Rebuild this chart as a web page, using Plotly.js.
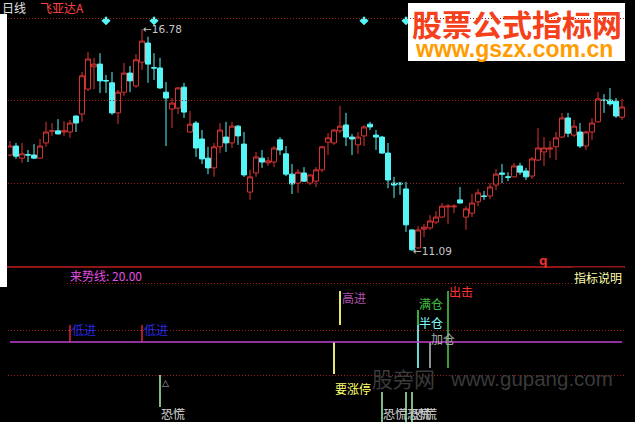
<!DOCTYPE html>
<html><head><meta charset="utf-8">
<script src="https://cdn.plot.ly/plotly-3.0.1.min.js"></script>
<style>html,body{margin:0;padding:0;background:#000;overflow:hidden}#chart{width:635px;height:422px}</style>
</head><body><div id="chart"></div>
<script>
// ---- daily candles (price, yuan) ----
const openP = [13.55,13.78,13.47,13.56,13.55,13.47,13.86,14.16,14.17,14.14,14.14,14.55,14.60,15.24,15.81,15.88,15.46,15.40,14.63,15.16,15.65,15.32,15.93,16.42,15.79,15.78,15.16,14.73,14.75,15.29,14.14,14.37,13.96,13.47,13.22,13.76,14.01,13.86,14.29,13.83,12.60,13.09,13.47,13.35,13.37,13.94,13.58,13.06,12.83,13.09,12.83,12.88,13.17,13.88,13.86,14.17,14.32,14.01,13.81,14.04,14.34,14.06,14.01,13.60,12.83,12.83,12.68,11.63,11.17,11.65,11.68,11.83,11.96,12.22,12.22,12.40,11.96,12.06,12.35,12.50,12.50,12.78,13.09,12.99,12.99,13.27,13.14,13.01,13.42,13.63,13.70,13.76,14.01,14.50,14.06,14.14,13.78,14.14,14.40,14.96,14.96,14.93,14.52];
const highP = [13.91,13.86,13.86,13.68,13.83,13.96,14.40,14.37,14.47,14.42,14.45,14.56,15.68,16.19,16.04,16.16,15.60,15.68,15.22,15.91,15.83,16.14,16.78,16.58,16.16,16.04,15.42,15.01,15.29,15.40,14.68,14.42,14.19,13.76,13.86,14.37,14.40,14.40,14.32,14.14,13.17,13.63,13.68,13.50,13.78,14.01,13.78,13.32,13.19,13.24,13.05,13.24,13.78,14.11,14.22,14.81,14.63,14.09,14.14,14.32,14.40,14.19,14.04,13.86,12.99,12.86,12.86,11.64,11.73,11.78,12.01,12.11,12.32,12.29,12.29,12.73,12.24,12.55,12.68,12.63,12.83,13.19,13.32,13.11,13.35,13.35,13.22,13.50,14.24,14.01,13.91,14.14,14.63,14.63,14.45,14.37,14.17,14.50,15.16,15.11,15.27,15.01,14.99];
const lowP = [13.52,13.45,13.35,13.37,13.46,13.46,13.76,14.04,14.08,14.04,13.99,14.14,14.40,15.19,15.24,15.14,15.14,14.58,14.34,15.06,15.16,15.27,15.73,15.40,15.47,15.24,13.78,14.24,14.60,14.50,14.13,13.50,13.32,13.06,12.99,13.60,13.63,13.73,13.81,12.99,12.40,12.99,13.22,13.27,13.24,13.55,13.01,12.55,12.58,12.86,12.78,12.73,13.11,13.55,13.81,14.11,13.78,13.55,13.58,13.78,14.19,13.68,13.58,12.70,12.45,12.53,11.58,11.09,11.14,11.45,11.63,11.78,11.94,11.78,12.06,12.31,11.63,11.96,12.24,12.40,12.42,12.65,12.83,12.88,12.98,13.04,12.91,12.94,13.40,13.27,13.47,13.42,13.99,14.01,14.01,13.73,13.68,13.94,14.39,14.63,14.81,14.50,14.45];
const closeP = [13.78,13.52,13.58,13.55,13.47,13.78,14.14,14.17,14.09,14.17,14.37,14.37,15.58,16.01,15.88,15.45,15.45,14.63,15.16,15.65,15.45,15.99,16.47,15.88,15.78,15.27,15.01,14.88,15.27,14.65,14.34,13.73,13.45,13.22,13.76,14.19,13.86,14.29,14.04,13.04,12.99,13.50,13.37,13.40,13.73,13.68,13.06,12.81,13.11,12.88,13.04,13.17,13.76,13.99,14.19,14.29,14.01,13.96,14.01,14.27,14.27,14.01,13.60,12.91,12.78,12.81,11.76,11.12,11.63,11.70,11.86,11.96,12.24,12.24,12.24,12.32,12.17,12.32,12.58,12.49,12.73,13.06,13.06,12.98,13.27,13.11,12.99,13.45,13.73,13.73,13.73,13.99,14.50,14.11,14.29,13.78,14.14,14.37,14.99,14.95,14.86,14.55,14.78];

// ---- top marker diamonds ----
const diamondIdx = [16, 24, 59, 66];
const diamondLevel = 16.99;

// ---- indicator panel: 来势线 and signals ----
const trendLineValue = 20.00;
const sigIdx  = [10, 22, 25, 54, 55, 62, 66, 67, 68, 68, 70, 73];
const sigLow  = [20, 20, 3.75, 12, 24.25, 0, 0, 0, 24.25, 13.5, 13.5, 13.5];
const sigHigh = [24.25, 24.25, 11.75, 20, 32.75, 7.5, 7.5, 7.5, 28, 24.25, 20, 32.75];
const sigName = ['低进','低进','恐慌','要涨停','高进','恐慌','恐慌','恐慌','满仓','半仓','加仓','出击'];

// ---- styles ----
const W = 635, H = 422;
const px = x => x / W, py = y => 1 - y / H;
const CJK = 'Noto Sans CJK SC, sans-serif';
const sigStyle = {
  '低进':  {bar:'#b82030', txt:'#2a2ae8', at:'high', dy:-4.5, dx:0},
  '恐慌':  {bar:'#8fcf8f', txt:'#d8d8d8', at:'fix',  v:2.25, dy:0, dx:-1},
  '要涨停':{bar:'#ffff80', txt:'#ffff70', at:'low',  dy:-14, dx:-1},
  '高进':  {bar:'#ffff80', txt:'#b050b0', at:'high', dy:-6.5, dx:0},
  '满仓':  {bar:'#40c040', txt:'#40c040', at:'high', dy:7, dx:-1},
  '半仓':  {bar:'#70f0f0', txt:'#80ffff', at:'high', dy:3, dx:-1},
  '加仓':  {bar:'#a0a0a0', txt:'#a8a8a8', at:'high', dy:4, dx:-1},
  '出击':  {bar:'#40b040', txt:'#ff3030', at:'high', dy:0, dx:-1}
};

const idx = openP.map((_, i) => i);

const traces = [
  {
    type:'candlestick', x: idx, open: openP, high: highP, low: lowP, close: closeP,
    xaxis:'x', yaxis:'y', hoverinfo:'skip', whiskerwidth:0,
    increasing:{line:{color:'#d83434', width:1}, fillcolor:'rgba(0,0,0,0)'},
    decreasing:{line:{color:'#54f6f6', width:1}, fillcolor:'#54f6f6'}
  },
  {
    type:'scatter', mode:'markers', x: diamondIdx, y: diamondIdx.map(() => diamondLevel),
    xaxis:'x', yaxis:'y', hoverinfo:'skip',
    marker:{symbol:'diamond', size:7, color:'#54f6f6'}
  },
  {
    type:'bar', x: sigIdx, base: sigLow, y: sigHigh.map((h, i) => h - sigLow[i]),
    xaxis:'x', yaxis:'y2', width:0.3, hoverinfo:'skip',
    marker:{color: sigName.map(n => sigStyle[n].bar), line:{width:0}}
  }
];

// ---- extremes ----
let hiI = 0, loI = 0;
highP.forEach((v, i) => { if (v > highP[hiI]) hiI = i; });
lowP.forEach((v, i) => { if (v < lowP[loI]) loI = i; });

const annotations = [];
function pann(text, x, y, color, size, extra) {
  annotations.push(Object.assign({text, x: px(x), y: py(y), xref:'paper', yref:'paper',
    xanchor:'left', yanchor:'middle', showarrow:false, font:{family:CJK, size, color}}, extra || {}));
}
pann('日线', 0, 7.5, '#e0e0e0', 12);
pann('飞亚达A', 38, 7.5, '#ff4444', 12);
pann('来势线: ' + trendLineValue.toFixed(2), 68, 275, '#e050e0', 12);
pann('指标说明', 572, 277, '#ffffb0', 12, {bgcolor:'#000'});
pann('q', 537, 261, '#e03030', 12, {font:{family:'DejaVu Sans', size:12, color:'#e03030', weight:'bold'}});
// watermarks
pann('股票公式指标网', 410, 22.5, '#f5401c', 30, {font:{family:CJK, size:30, color:'#f5401c', weight:'bold'}});
pann('www.gszx.com.cn', 413, 48.5, '#ff9c00', 23, {font:{family:'Liberation Sans', size:23, color:'#ff9c00', weight:'bold'}});
pann('股旁网', 370, 378, '#3a3a3a', 21);
pann('www.gupang.com', 448, 378, '#3a3a3a', 20, {font:{family:'Liberation Sans', size:20.5, color:'#3a3a3a'}});

annotations.push({text:'←' + highP[hiI].toFixed(2), x: hiI, y: highP[hiI], xref:'x', yref:'y',
  xanchor:'left', yanchor:'middle', showarrow:false, xshift:-1,
  font:{family:'DejaVu Sans', size:10.5, color:'#c8c8c8'}});
annotations.push({text:'←' + lowP[loI].toFixed(2), x: loI, y: lowP[loI], xref:'x', yref:'y',
  xanchor:'left', yanchor:'middle', showarrow:false, xshift:-1,
  font:{family:'DejaVu Sans', size:10.5, color:'#c8c8c8'}});

sigName.forEach((n, i) => {
  const s = sigStyle[n];
  const yv = s.at === 'high' ? sigHigh[i] : s.at === 'low' ? sigLow[i] : s.v;
  annotations.push({text:n, x: sigIdx[i], y: yv, xref:'x', yref:'y2', xanchor:'left', yanchor:'middle',
    showarrow:false, xshift: s.dx, yshift: s.dy, font:{family:CJK, size:12, color:s.txt}});
});
const firstPanic = sigName.indexOf('恐慌');
annotations.push({text:'△', x: sigIdx[firstPanic], y: sigHigh[firstPanic], xref:'x', yref:'y2',
  xanchor:'left', yanchor:'top', showarrow:false, xshift:0, yshift:-1,
  font:{family:'DejaVu Sans', size:9, color:'#b0b0b0'}});

// ---- frame / grid ----
const DOT = '1px,2px', GRID = '#a01c1c';
function dotted(x0, x1, y) {
  return {type:'line', xref:'paper', yref:'paper', x0:px(x0), x1:px(x1), y0:py(y + 0.5), y1:py(y + 0.5),
          line:{color:GRID, width:1, dash:DOT}};
}
const shapes = [
  {type:'rect', xref:'paper', yref:'paper', x0:0, x1:px(7), y0:py(287), y1:py(14), fillcolor:'#ffffff', line:{width:0}, layer:'below'},
  {type:'rect', xref:'paper', yref:'paper', x0:px(408), x1:px(625), y0:py(61), y1:py(3), fillcolor:'#ffffff', line:{width:0}, layer:'above'},
  {type:'line', xref:'paper', yref:'paper', x0:px(7), x1:px(625), y0:py(267), y1:py(267), line:{color:'#8e1616', width:2}},
  dotted(8, 625, 18), dotted(8, 625, 100), dotted(8, 625, 183),
  dotted(67, 625, 283), dotted(8, 625, 330), dotted(8, 625, 375),
  {type:'line', xref:'paper', yref:'y2', x0:px(10), x1:px(622), y0:trendLineValue, y1:trendLineValue, line:{color:'#c040d0', width:1.5}}
];

const splitY = (H - 267) / H;
const layout = {
  width: W, height: H, margin:{l:0, r:0, t:0, b:0, pad:0},
  paper_bgcolor:'#000', plot_bgcolor:'#000', showlegend:false,
  boxgap:0.1, boxgroupgap:0.08, barmode:'overlay',
  xaxis:{domain:[px(8), px(625)], range:[-1/3, 102.5], showgrid:false, zeroline:false,
         showticklabels:false, showline:false, ticks:'', rangeslider:{visible:false}, fixedrange:true},
  yaxis:{domain:[splitY, 1], range:[10.680, 17.523], showgrid:false, zeroline:false,
         showticklabels:false, ticks:'', fixedrange:true},
  yaxis2:{domain:[0, splitY], range:[0, 38.75], showgrid:false, zeroline:false,
          showticklabels:false, ticks:'', fixedrange:true},
  shapes, annotations
};

Plotly.newPlot('chart', traces, layout, {staticPlot:true, displayModeBar:false});
</script>
</body></html>
